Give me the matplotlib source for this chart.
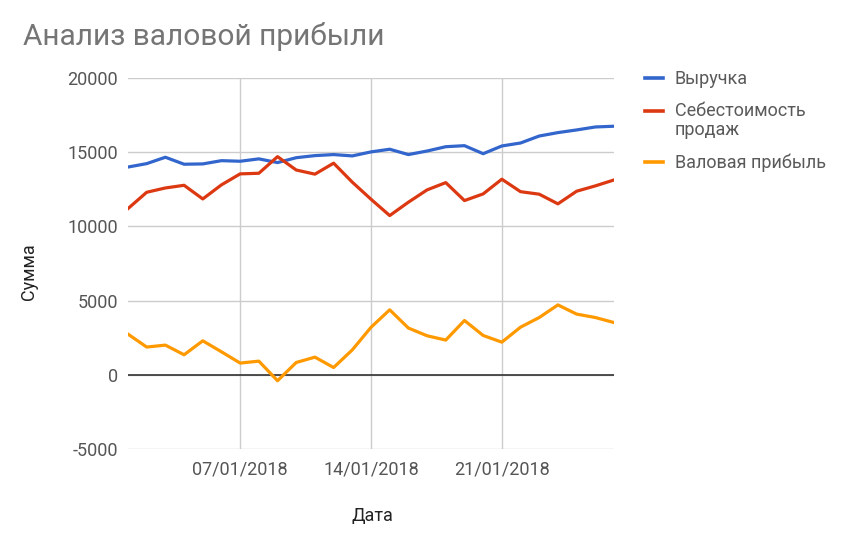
import matplotlib
matplotlib.use('Agg')
import matplotlib.pyplot as plt
from matplotlib.lines import Line2D
import pandas as pd

plt.rcParams['font.family'] = ['Roboto', 'DejaVu Sans']

dates = pd.date_range('2018-01-01', '2018-01-27', freq='D')
revenue = [14000, 14230, 14660, 14190, 14210, 14430, 14390, 14550, 14300, 14630,
           14770, 14840, 14750, 15020, 15200, 14840, 15080, 15370, 15440, 14900,
           15420, 15620, 16090, 16320, 16500, 16700, 16750]
cost = [11200, 12300, 12590, 12770, 11850, 12800, 13540, 13580, 14700, 13800,
        13520, 14260, 12980, 11830, 10730, 11630, 12460, 12950, 11740, 12190,
        13180, 12340, 12170, 11520, 12370, 12730, 13130]
gross = [2740, 1870, 2000, 1350, 2290, 1550, 790, 920, -400, 830,
         1190, 490, 1680, 3200, 4380, 3150, 2630, 2340, 3660, 2650,
         2200, 3210, 3860, 4710, 4090, 3860, 3520]
series_names = ['Выручка', 'Себестоимость\nпродаж', 'Валовая прибыль']
colors = ['#3366CC', '#DC3912', '#FF9900']
tick_dates = pd.to_datetime(['2018-01-07', '2018-01-14', '2018-01-21'])
tick_labels = ['07/01/2018', '14/01/2018', '21/01/2018']
yticks = [-5000, 0, 5000, 10000, 15000, 20000]
title = 'Анализ валовой прибыли'
xlabel = 'Дата'
ylabel = 'Сумма'

W, H = 857, 534
fig = plt.figure(figsize=(W / 100, H / 100), dpi=100)
ax = fig.add_axes([128 / W, 1 - 449 / H, (614 - 128) / W, (449 - 78) / H])

for vals, c in zip([revenue, cost, gross], colors):
    ax.plot(dates, vals, color=c, lw=2.3, zorder=3, solid_joinstyle='round')

ax.set_ylim(-5000, 20000)
ax.set_xlim(dates[0], dates[-1])
ax.set_yticks(yticks)
ax.set_yticklabels([str(v) for v in yticks])
ax.set_xticks(tick_dates)
ax.set_xticklabels(tick_labels)
ax.grid(True, color='#cccccc', lw=1.0, zorder=0)
ax.axhline(0, color='#333333', lw=1.2, zorder=2)
for s in ax.spines.values():
    s.set_visible(False)
ax.tick_params(length=0, labelsize=13, labelcolor='#555555')
ax.tick_params(axis='y', pad=7.2)
ax.tick_params(axis='x', pad=8.5)

ax.set_xlabel(xlabel, fontsize=13, color='#222222')
ax.set_ylabel(ylabel, fontsize=13, color='#222222')
ax.xaxis.set_label_coords((372 - 128) / 486, (449 - 507) / 371)
ax.yaxis.set_label_coords((38 - 128) / 486, (449 - 272) / 371)

fig.text(23 / W, 1 - 45 / H, title, fontsize=21.5, color='#757575', ha='left', va='baseline')

# legend
dash_y = [78, 111, 162]
text_base = [83.5, 135, 168]   # baseline of the last line of each label
for name, c, y, tb in zip(series_names, colors, dash_y, text_base):
    fig.add_artist(Line2D([645 / W, 663 / W], [1 - y / H, 1 - y / H], color=c, lw=2.6,
                          transform=fig.transFigure))
    fig.text(675 / W, 1 - tb / H, name, fontsize=13, color='#5a5a5a', ha='left',
             va='baseline', linespacing=1.08)

fig.savefig('out.png', dpi=100, facecolor='white')
